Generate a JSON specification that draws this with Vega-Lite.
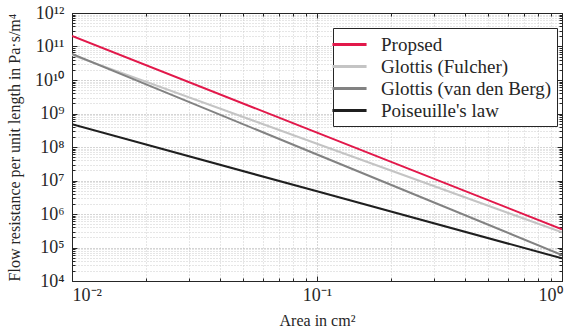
{
  "$schema": "https://vega.github.io/schema/vega-lite/v6.json",
  "width": 490,
  "height": 268,
  "autosize": "none",
  "padding": {"left": 72, "top": 13, "right": 13, "bottom": 50},
  "background": "white",
  "config": {
    "view": {"stroke": "#262626", "strokeWidth": 1},
    "font": "Liberation Serif, Times New Roman, serif",
    "axis": {
      "labelFont": "Liberation Serif, Times New Roman, serif",
      "titleFont": "Liberation Serif, Times New Roman, serif",
      "labelColor": "#262626",
      "titleColor": "#262626",
      "domainColor": "#262626",
      "tickColor": "#262626",
      "titleFontWeight": "normal"
    },
    "legend": {
      "labelFont": "Liberation Serif, Times New Roman, serif"
    }
  },
  "data": {
    "values": [
      {"area": 0.01, "r": 2.06e11, "series": "Propsed"},
      {"area": 0.1, "r": 2.68e8, "series": "Propsed"},
      {"area": 1, "r": 3.49e5, "series": "Propsed"},
      {"area": 0.01, "r": 5.57e10, "series": "Glottis (Fulcher)"},
      {"area": 0.1, "r": 1.25e8, "series": "Glottis (Fulcher)"},
      {"area": 1, "r": 2.82e5, "series": "Glottis (Fulcher)"},
      {"area": 0.01, "r": 5.97e10, "series": "Glottis (van den Berg)"},
      {"area": 0.1, "r": 5.97e7, "series": "Glottis (van den Berg)"},
      {"area": 1, "r": 5.97e4, "series": "Glottis (van den Berg)"},
      {"area": 0.01, "r": 4.75e8, "series": "Poiseuille's law"},
      {"area": 0.1, "r": 4.75e6, "series": "Poiseuille's law"},
      {"area": 1, "r": 4.75e4, "series": "Poiseuille's law"}
    ]
  },
  "resolve": {"axis": {"x": "independent", "y": "independent"}},
  "layer": [
    {
      "mark": {"type": "line", "strokeWidth": 2, "clip": true},
      "encoding": {
        "x": {
          "field": "area", "type": "quantitative",
          "scale": {"type": "log", "domain": [0.01, 1], "nice": false},
          "axis": {
            "orient": "bottom",
            "title": "Area in cm²",
            "titleFontSize": 16,
            "titlePadding": 6,
            "labelFont": "Liberation Serif",
            "labelFontSize": 18,
            "labelPadding": 10,
            "values": [0.01,0.02,0.03,0.04,0.05,0.06,0.07,0.08,0.09,0.1,0.2,0.3,0.4,0.5,0.6,0.7,0.8,0.9,1],
            "labelExpr": "abs(log(datum.value)/LN10 - round(log(datum.value)/LN10)) < 0.001 ? ['10⁻²','10⁻¹','10⁰'][round(log(datum.value)/LN10)+2] : ''",
            "tickSize": {"condition": {"test": "abs(log(datum.value)/LN10 - round(log(datum.value)/LN10)) < 0.001", "value": -5}, "value": -3},
            "grid": true,
            "gridDash": [1, 2],
            "gridColor": {"condition": {"test": "abs(log(datum.value)/LN10 - round(log(datum.value)/LN10)) < 0.001", "value": "#aaaaaa"}, "value": "#cccccc"},
            "labelOverlap": false
          }
        },
        "y": {
          "field": "r", "type": "quantitative",
          "scale": {"type": "log", "domain": [1e4, 1e12], "nice": false},
          "axis": {
            "orient": "left",
            "title": "Flow resistance per unit length in Pa·s/m⁴",
            "titleFontSize": 16,
            "titlePadding": 12,
            "labelFont": "Liberation Serif",
            "labelFontSize": 18,
            "labelPadding": 13,
            "values": [1e4,2e4,3e4,4e4,5e4,6e4,7e4,8e4,9e4,1e5,2e5,3e5,4e5,5e5,6e5,7e5,8e5,9e5,1e6,2e6,3e6,4e6,5e6,6e6,7e6,8e6,9e6,1e7,2e7,3e7,4e7,5e7,6e7,7e7,8e7,9e7,1e8,2e8,3e8,4e8,5e8,6e8,7e8,8e8,9e8,1e9,2e9,3e9,4e9,5e9,6e9,7e9,8e9,9e9,1e10,2e10,3e10,4e10,5e10,6e10,7e10,8e10,9e10,1e11,2e11,3e11,4e11,5e11,6e11,7e11,8e11,9e11,1e12],
            "labelExpr": "abs(log(datum.value)/LN10 - round(log(datum.value)/LN10)) < 0.001 ? ['10⁴','10⁵','10⁶','10⁷','10⁸','10⁹','10¹⁰','10¹¹','10¹²'][round(log(datum.value)/LN10)-4] : ''",
            "tickSize": {"condition": {"test": "abs(log(datum.value)/LN10 - round(log(datum.value)/LN10)) < 0.001", "value": -5}, "value": -3},
            "grid": true,
            "gridDash": [1, 2],
            "gridColor": {"condition": {"test": "abs(log(datum.value)/LN10 - round(log(datum.value)/LN10)) < 0.001", "value": "#aaaaaa"}, "value": "#cccccc"},
            "labelOverlap": false
          }
        },
        "color": {
          "field": "series", "type": "nominal",
          "sort": ["Propsed", "Glottis (Fulcher)", "Glottis (van den Berg)", "Poiseuille's law"],
          "scale": {
            "domain": ["Propsed", "Glottis (Fulcher)", "Glottis (van den Berg)", "Poiseuille's law"],
            "range": ["#e2184a", "#c4c4c4", "#828282", "#1f1f1f"]
          },
          "legend": {
            "title": null,
            "orient": "none",
            "legendX": 261,
            "legendY": 15,
            "fillColor": "white",
            "strokeColor": "#262626",
            "padding": 5,
            "labelFont": "Liberation Serif",
            "labelFontSize": 19,
            "labelLimit": 300,
            "labelColor": "#262626",
            "symbolType": "M-1.75,0H1.75",
            "symbolSize": 380,
            "symbolStrokeWidth": 3,
            "rowPadding": 0,
            "labelOffset": 20
          }
        }
      }
    },
    {
      "mark": {"type": "line", "opacity": 0},
      "encoding": {
        "x": {
          "field": "area", "type": "quantitative",
          "scale": {"type": "log", "domain": [0.01, 1], "nice": false},
          "axis": {
            "orient": "top", "title": null, "labels": false, "grid": false,
            "values": [0.01,0.02,0.03,0.04,0.05,0.06,0.07,0.08,0.09,0.1,0.2,0.3,0.4,0.5,0.6,0.7,0.8,0.9,1],
            "tickSize": {"condition": {"test": "abs(log(datum.value)/LN10 - round(log(datum.value)/LN10)) < 0.001", "value": -5}, "value": -3}
          }
        },
        "y": {
          "field": "r", "type": "quantitative",
          "scale": {"type": "log", "domain": [1e4, 1e12], "nice": false},
          "axis": {
            "orient": "right", "title": null, "labels": false, "grid": false,
            "values": [1e4,2e4,3e4,4e4,5e4,6e4,7e4,8e4,9e4,1e5,2e5,3e5,4e5,5e5,6e5,7e5,8e5,9e5,1e6,2e6,3e6,4e6,5e6,6e6,7e6,8e6,9e6,1e7,2e7,3e7,4e7,5e7,6e7,7e7,8e7,9e7,1e8,2e8,3e8,4e8,5e8,6e8,7e8,8e8,9e8,1e9,2e9,3e9,4e9,5e9,6e9,7e9,8e9,9e9,1e10,2e10,3e10,4e10,5e10,6e10,7e10,8e10,9e10,1e11,2e11,3e11,4e11,5e11,6e11,7e11,8e11,9e11,1e12],
            "tickSize": {"condition": {"test": "abs(log(datum.value)/LN10 - round(log(datum.value)/LN10)) < 0.001", "value": -5}, "value": -3}
          }
        },
        "detail": {"field": "series", "type": "nominal"}
      }
    }
  ]
}
